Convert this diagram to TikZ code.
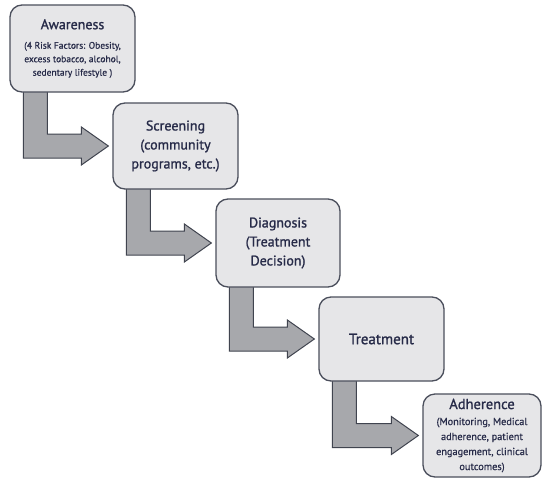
\documentclass[tikz,border=0pt]{standalone}
\usepackage{fontspec}
\setmainfont{PT Sans}
\newfontfamily\semibf[FakeBold=1.2]{PT Sans}
\newfontfamily\medbf[FakeBold=0.6]{PT Sans}
\usetikzlibrary{calc,backgrounds}
\definecolor{boxfill}{HTML}{E6E6E8}
\definecolor{boxedge}{HTML}{4B4F5C}
\definecolor{arrowfill}{HTML}{A7A8AC}
\definecolor{arrowedge}{HTML}{40444F}
\definecolor{textc}{HTML}{262A48}
\newcommand\stepflow[2]{%
  \path[flow] let \p1=(#1.south west), \p2=(#2.west) in
    (\x1+14pt,\y1+3pt) -- (\x1+14pt,\y2-12pt) -- (\x2-31pt,\y2-12pt)
    -- (\x2-31pt,\y2-19pt) -- (\x2-4pt,\y2) -- (\x2-31pt,\y2+19pt)
    -- (\x2-31pt,\y2+12pt) -- (\x1+38pt,\y2+12pt) -- (\x1+38pt,\y1+3pt) -- cycle;}
\begin{document}
\begin{tikzpicture}[x=1pt,y=-1pt,
  stage/.style={draw=boxedge, fill=boxfill, line width=1.3pt, rounded corners=12pt,
    minimum width=125pt, minimum height=87pt, align=center, text=textc, inner sep=0pt,
    font=\semibf\fontsize{14}{19}\selectfont},
  flow/.style={draw=arrowedge, fill=arrowfill, line width=1pt, line join=miter}]
\begin{pgfonlayer}{background}
\fill[white] (0,0) rectangle (543,479);
\end{pgfonlayer}
\useasboundingbox (0,0) rectangle (543,479);
\node[stage, font=\medbf\fontsize{9.5}{13.5}\selectfont] (aware) at (72.5,48.5)
  {{\semibf\fontsize{14}{15}\selectfont Awareness}\\[6pt](4 Risk Factors: Obesity,\\excess tobacco, alcohol,\\sedentary lifestyle )};
\node[stage, minimum height=86pt] (screen) at (175.5,146) {Screening\\(community\\programs, etc.)};
\node[stage, minimum width=124pt, minimum height=88pt] (diag) at (278,243) {Diagnosis\\(Treatment\\Decision)};
\node[stage, minimum height=84pt, font=\semibf\fontsize{15}{19}\selectfont] (treat) at (381.5,339) {Treatment};
\node[stage, minimum width=118pt, minimum height=83pt, font=\medbf\fontsize{10.3}{15}\selectfont] (adhere) at (482,435.5)
  {{\semibf\fontsize{14.5}{16}\selectfont Adherence}\\[1pt](Monitoring, Medical\\adherence, patient\\engagement, clinical\\outcomes)};
\begin{pgfonlayer}{background}
\stepflow{aware}{screen}
\stepflow{screen}{diag}
\stepflow{diag}{treat}
\stepflow{treat}{adhere}
\end{pgfonlayer}
\end{tikzpicture}
\end{document}
